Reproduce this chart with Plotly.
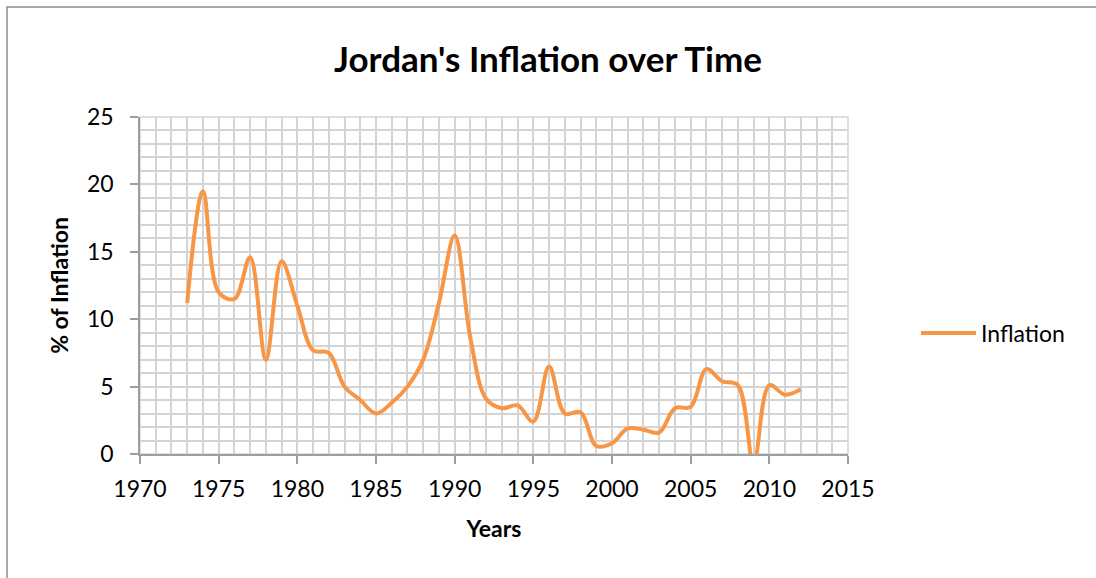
import plotly.graph_objects as go

# Annual consumer price inflation in Jordan (%)
years = list(range(1973, 2013))
inflation = [
    11.2, 19.5, 12.0, 11.5, 14.6, 7.0, 14.3, 11.0, 7.7, 7.5,
    5.0, 4.0, 3.0, 3.8, 5.0, 7.0, 11.2, 16.2, 8.6, 4.1,
    3.4, 3.6, 2.4, 6.5, 3.0, 3.1, 0.6, 0.8, 1.9, 1.8,
    1.6, 3.4, 3.5, 6.3, 5.4, 5.1, -0.7, 5.1, 4.4, 4.8,
]

x_ticks = [1970, 1975, 1980, 1985, 1990, 1995, 2000, 2005, 2010, 2015]
y_ticks = [0, 5, 10, 15, 20, 25]

FONT = "Lato"
GRID = "#d4d4d4"
AXIS = "#9e9e9e"
LINE = "#F79646"

# plot area in pixels: x 140..848, y 117..454
L, R, T, B = 140, 848, 117, 454
W, H = 1096, 578


def px(x):
    return (x - L) / (R - L)


def py(y):
    return (B - y) / (B - T)


fig = go.Figure()
fig.add_trace(go.Scatter(
    x=years, y=inflation, name="Inflation", mode="lines",
    line=dict(color=LINE, width=4, shape="spline", smoothing=1.0),
    showlegend=False,
))

fig.update_layout(
    width=W, height=H,
    margin=dict(l=L, r=W - R, t=T, b=H - B),
    paper_bgcolor="white", plot_bgcolor="white",
    font=dict(family=FONT, color="#000000", size=23),
    title=dict(text="<b>Jordan's Inflation over Time</b>", x=0.5, xanchor="center",
               y=1 - 60 / H, yanchor="middle", font=dict(size=35, family=FONT)),
    showlegend=False,
)

fig.update_xaxes(
    range=[1970, 2015], tickvals=x_ticks, ticks="outside", ticklen=8, tickcolor=AXIS,
    tickwidth=1.5, showline=True, linecolor=AXIS, linewidth=1.5,
    showgrid=True, gridcolor=GRID, gridwidth=1.5, zeroline=False,
    minor=dict(dtick=1, showgrid=True, gridcolor=GRID, gridwidth=1.5, ticks=""),
    ticklabelstandoff=6, tickfont=dict(size=23),
    title=dict(text="<b>Years</b>", font=dict(size=23, family=FONT), standoff=20),
)
fig.update_yaxes(
    range=[0, 25], tickvals=y_ticks, ticks="outside", ticklen=8, tickcolor=AXIS,
    tickwidth=1.5, showline=True, linecolor=AXIS, linewidth=1.5,
    showgrid=True, gridcolor=GRID, gridwidth=1.5, zeroline=False,
    minor=dict(dtick=1, showgrid=True, gridcolor=GRID, gridwidth=1.5, ticks=""),
    ticklabelstandoff=12, tickfont=dict(size=23),
    title=dict(text="<b>% of Inflation</b>", font=dict(size=23, family=FONT), standoff=12),
)

# top and right edges of the grid
fig.add_shape(type="rect", xref="paper", yref="paper", x0=0, x1=1, y0=0, y1=1,
              line=dict(color=GRID, width=1.5), fillcolor="rgba(0,0,0,0)", layer="below")

# legend entry
fig.add_shape(type="line", xref="paper", yref="paper",
              x0=px(921), x1=px(976), y0=py(333), y1=py(333),
              line=dict(color=LINE, width=4))
fig.add_annotation(xref="paper", yref="paper", x=px(979), y=py(333),
                   xanchor="left", yanchor="middle", showarrow=False,
                   text="Inflation", font=dict(size=23, family=FONT, color="#000000"))

# outer chart frame
fig.add_shape(type="rect", xref="paper", yref="paper",
              x0=px(7), x1=px(1110), y0=py(600), y1=py(7),
              line=dict(color="#8c8c8c", width=1.5), fillcolor="rgba(0,0,0,0)", layer="below")

fig.write_html("out.html")
